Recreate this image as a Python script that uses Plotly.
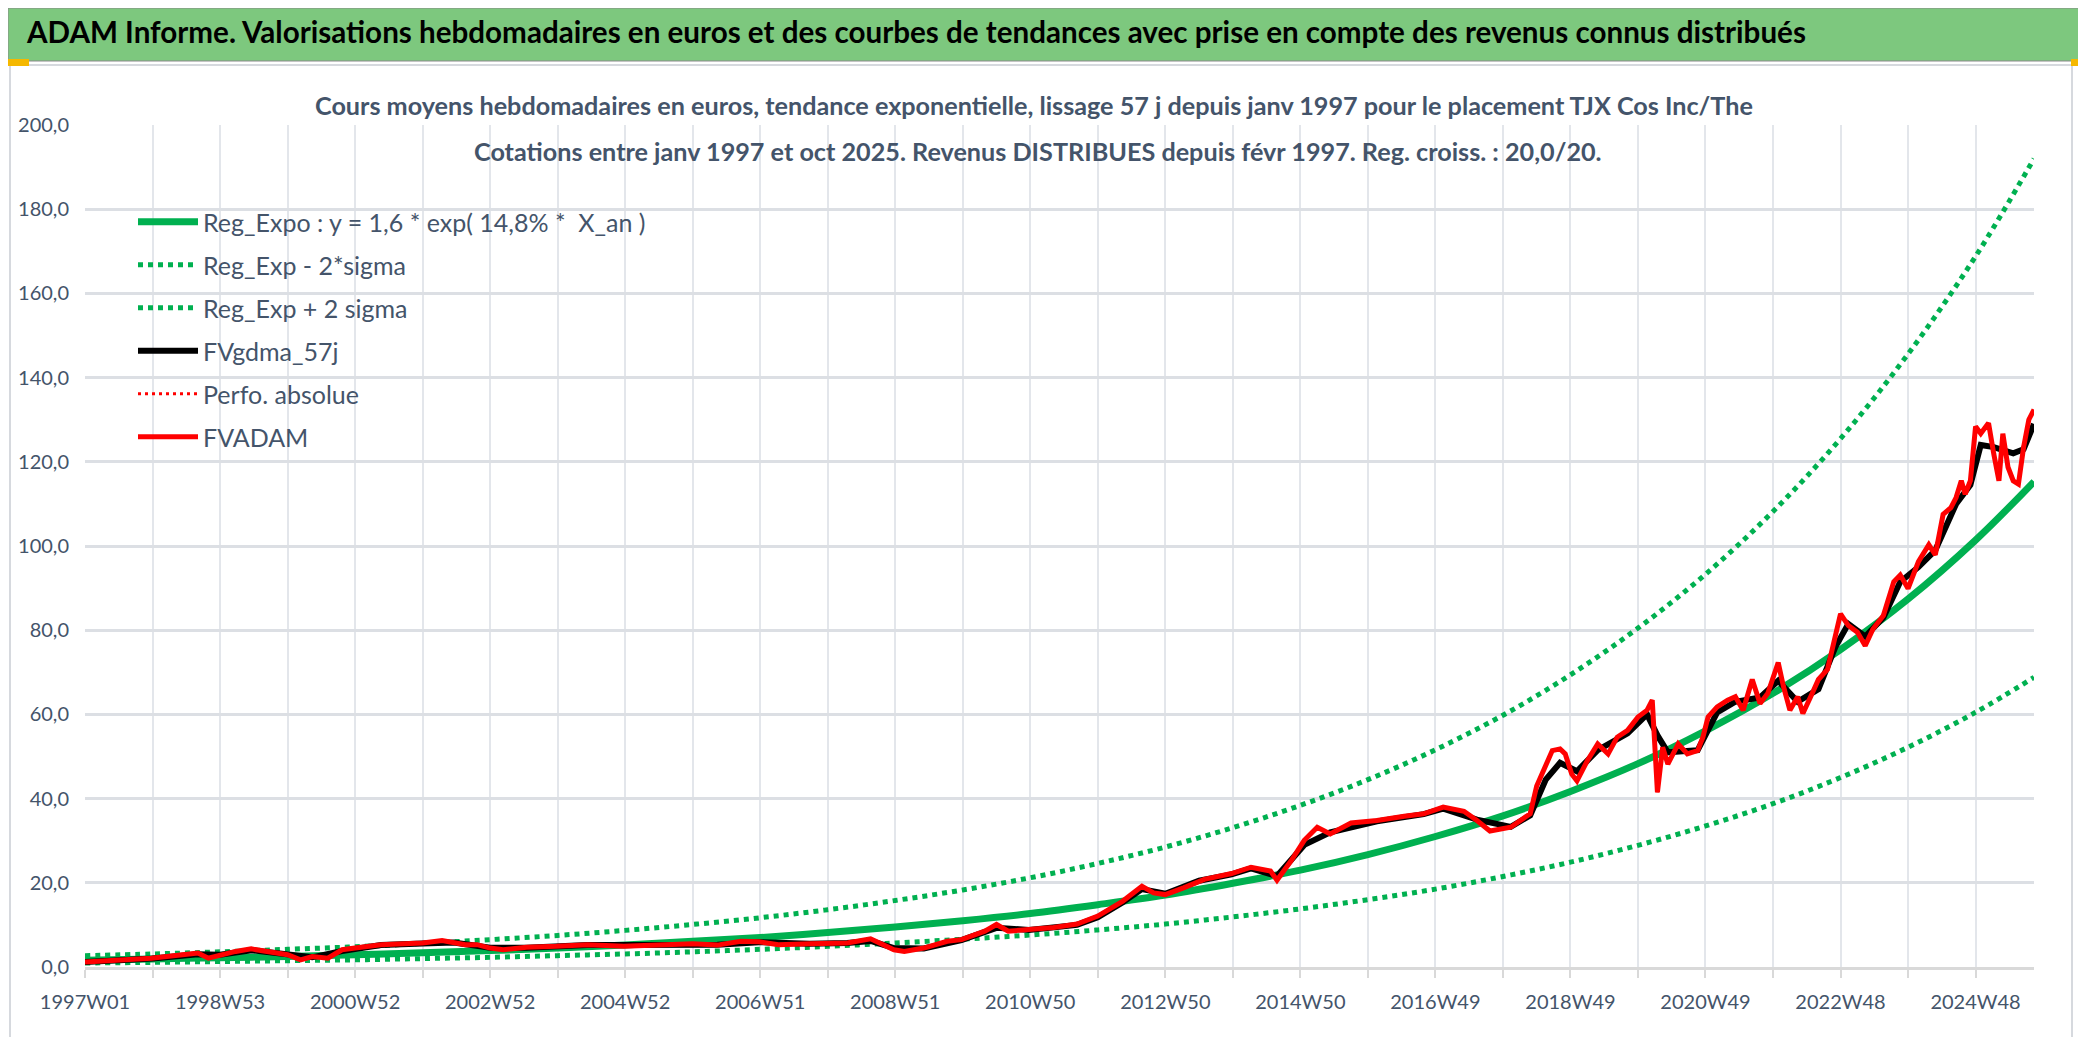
import datetime as dt
import plotly.graph_objects as go

# ---------------- categories : ISO weeks 1997W01 .. 2025W41 ----------------
N_WEEKS = 1502
_monday = dt.date(1996, 12, 30)  # Monday of ISO week 1997W01
weeks = []
for i in range(N_WEEKS):
    yy, ww, _ = (_monday + dt.timedelta(weeks=i)).isocalendar()
    weeks.append(f"{yy}W{ww:02d}")

# ---------------- regression curves (read at yearly gridlines) --------------
band_week = [0, 52, 104, 156, 208, 260, 312, 364, 416, 468,
             520, 572, 624, 676, 728, 780, 832, 884, 936, 988,
             1040, 1092, 1144, 1196, 1248, 1300, 1352, 1404, 1456, 1501]
reg_expo = [1.6, 1.9, 2.2, 2.5, 2.9, 3.4, 3.9, 4.5, 5.2, 6.1,
            7.0, 8.2, 9.5, 11.0, 12.7, 14.8, 17.1, 19.9, 23.0, 26.7,
            31.0, 35.9, 41.7, 48.3, 56.1, 65.0, 75.4, 87.4, 101.4, 115.3]
reg_minus = [0.96, 1.1, 1.3, 1.5, 1.7, 2.0, 2.3, 2.7, 3.1, 3.6,
             4.2, 4.9, 5.7, 6.6, 7.6, 8.8, 10.2, 11.9, 13.8, 16.0,
             18.5, 21.5, 24.9, 28.9, 33.5, 38.8, 45.0, 52.2, 60.5, 68.8]
reg_plus = [2.7, 3.1, 3.6, 4.2, 4.8, 5.6, 6.5, 7.5, 8.7, 10.1,
            11.7, 13.6, 15.8, 18.3, 21.2, 24.6, 28.5, 33.1, 38.4, 44.5,
            51.6, 59.8, 69.4, 80.5, 93.3, 108.2, 125.5, 145.6, 168.8, 192.0]

# ---------------- FVADAM (weeks since 1997W01, values) ----------------------
adam_week = [0, 28, 51, 75, 87, 95, 104, 116, 128, 140,
             156, 166, 175, 187, 198, 208, 228, 246, 260, 275,
             284, 293, 302, 312, 322, 340, 363, 387, 415, 440,
             468, 487, 505, 519, 534, 558, 571, 587, 605, 614,
             623, 631, 646, 664, 675, 693, 702, 711, 727, 746,
             764, 780, 799, 814, 823, 832, 846, 862, 883, 898,
             913, 918, 929, 939, 949, 959, 975, 995, 1016, 1031,
             1046, 1062, 1072, 1082, 1098, 1113, 1118, 1130, 1136, 1140,
             1145, 1149, 1157, 1165, 1173, 1180, 1188, 1196, 1203, 1207,
             1211, 1215, 1219, 1227, 1234, 1242, 1246, 1250, 1257, 1265,
             1271, 1277, 1284, 1290, 1296, 1304, 1308, 1313, 1319, 1323,
             1329, 1335, 1342, 1348, 1352, 1358, 1365, 1371, 1377, 1385,
             1393, 1398, 1404, 1412, 1420, 1425, 1431, 1437, 1441, 1445,
             1448, 1452, 1456, 1460, 1466, 1470, 1474, 1477, 1481, 1485,
             1489, 1493, 1497, 1501]
adam_val = [1.2, 1.7, 2.1, 2.9, 3.3, 2.1, 2.9, 3.7, 4.3, 3.7,
            2.9, 1.7, 2.5, 2.1, 4.1, 4.5, 5.3, 5.5, 5.7, 6.3,
            5.7, 5.3, 5.3, 4.5, 4.1, 4.7, 4.9, 5.3, 4.9, 5.2,
            5.5, 5.2, 6.1, 6.0, 5.3, 5.5, 5.5, 5.7, 6.7, 5.3,
            4.1, 3.7, 4.5, 6.1, 6.5, 8.5, 10.1, 8.5, 8.9, 9.4,
            10.2, 12.1, 15.6, 19.2, 17.6, 17.2, 18.8, 20.8, 22.2, 23.7,
            22.8, 20.6, 25.3, 30.1, 33.2, 31.6, 34.2, 34.8, 35.8, 36.4,
            38.0, 37.0, 34.8, 32.3, 33.2, 36.4, 43.0, 51.4, 51.8, 50.6,
            45.8, 44.2, 49.0, 53.0, 50.6, 54.6, 56.2, 59.4, 61.0, 63.4,
            41.5, 52.2, 48.2, 53.0, 50.6, 51.4, 54.6, 59.4, 61.8, 63.4,
            64.2, 61.0, 68.3, 62.6, 65.0, 72.3, 66.7, 61.0, 64.2, 60.2,
            64.2, 68.3, 70.7, 78.7, 83.9, 81.1, 79.5, 76.3, 80.3, 83.5,
            91.5, 93.1, 89.9, 96.3, 100.3, 97.9, 107.5, 109.1, 111.5, 115.5,
            112.3, 115.5, 128.4, 126.7, 129.2, 121.9, 115.5, 126.7, 118.7, 115.5,
            114.7, 123.5, 130.0, 132.4]

# ---------------- FVgdma_57j (smoothed) -------------------------------------
gdma_week = [0, 52, 87, 104, 128, 156, 175, 198, 228, 260,
             284, 312, 340, 387, 440, 487, 519, 558, 587, 605,
             623, 646, 675, 702, 727, 764, 780, 799, 814, 832,
             858, 883, 898, 918, 939, 959, 995, 1031, 1046, 1072,
             1098, 1113, 1125, 1136, 1149, 1165, 1188, 1203, 1211, 1219,
             1242, 1257, 1271, 1290, 1304, 1319, 1335, 1348, 1358, 1371,
             1385, 1398, 1412, 1425, 1441, 1452, 1460, 1470, 1485, 1493,
             1501]
gdma_val = [1.2, 2.0, 3.0, 2.9, 4.0, 3.0, 2.3, 3.8, 5.2, 5.6,
            5.8, 4.6, 4.6, 5.2, 5.1, 5.3, 5.9, 5.5, 5.7, 6.2,
            4.5, 4.4, 6.4, 9.3, 8.8, 10.0, 11.8, 15.3, 18.5, 17.4,
            20.5, 22.0, 23.4, 21.6, 29.0, 32.0, 34.6, 36.3, 37.6, 35.0,
            33.3, 36.0, 44.5, 48.5, 46.5, 51.5, 55.5, 60.0, 55.0, 51.0,
            51.5, 60.5, 63.0, 64.0, 68.0, 63.0, 66.0, 76.0, 81.5, 78.5,
            83.0, 91.5, 95.0, 99.0, 110.0, 114.5, 124.0, 123.5, 122.0, 123.0,
            129.0]

legend_names = ["Reg_Expo : y = 1,6 * exp( 14,8% *  X_an )", "Reg_Exp - 2*sigma",
                "Reg_Exp + 2 sigma", "FVgdma_57j", "Perfo. absolue", "FVADAM"]
banner_text = ("ADAM Informe. Valorisations hebdomadaires en euros et des courbes de "
               "tendances avec prise en compte des revenus connus distribués")
title_l1 = ("Cours moyens hebdomadaires en euros, tendance exponentielle, lissage 57 j "
            "depuis janv 1997 pour le placement TJX Cos Inc/The")
title_l2 = ("Cotations entre janv 1997 et oct 2025. Revenus DISTRIBUES depuis févr 1997. "
            "Reg. croiss. : 20,0/20.")
y_ticks = [0, 20, 40, 60, 80, 100, 120, 140, 160, 180, 200]

# ---------------- layout geometry (pixels) ----------------------------------
W, H = 2086, 1037
L, R, T, B = 77, 60, 117, 78
PW, PH = W - L - R, H - T - B


def px(x):
    return (x - L) / PW


def py(y):
    return 1 - (y - T) / PH


FONT = "Lato, Roboto, sans-serif"
TXT = "#44546A"
GREEN = "#00B050"
RED = "#FF0000"


def wk(idx):
    return [weeks[i] for i in idx]


fig = go.Figure()
specs = [
    (band_week, reg_expo, dict(color=GREEN, width=7, shape="spline")),
    (band_week, reg_minus, dict(color=GREEN, width=5, dash="5px,5px", shape="spline")),
    (band_week, reg_plus, dict(color=GREEN, width=5, dash="5px,5px", shape="spline")),
    (gdma_week, gdma_val, dict(color="#000000", width=6)),
    (adam_week, adam_val, dict(color=RED, width=3, dash="3px,4px")),
    (adam_week, adam_val, dict(color=RED, width=5)),
]
for n, (xs, ys, ln) in enumerate(specs):
    fig.add_trace(go.Scatter(x=wk(xs), y=ys, name=legend_names[n], mode="lines",
                             line=ln, legendgroup=f"g{n}"))

tickvals = weeks[::52]
ticktext = [w if (k % 2 == 0) else "" for k, w in enumerate(tickvals)]

shapes = [
    dict(type="rect", xref="paper", yref="paper", x0=px(0), x1=px(W), y0=py(0), y1=py(53),
         fillcolor="#7DC87E", line=dict(color="#8A8A8A", width=1), layer="below"),
    dict(type="rect", xref="paper", yref="paper", x0=px(2), x1=px(2064), y0=py(57), y1=py(1030),
         line=dict(color="#D6D9DE", width=2), fillcolor="rgba(0,0,0,0)", layer="below"),
    dict(type="rect", xref="paper", yref="paper", x0=px(310), x1=px(1745), y0=py(80), y1=py(171),
         fillcolor="white", line=dict(width=0), layer="between"),
    dict(type="rect", xref="paper", yref="paper", x0=px(0), x1=px(21), y0=py(51), y1=py(58),
         fillcolor="#F5B800", line=dict(width=0)),
    dict(type="rect", xref="paper", yref="paper", x0=px(2063), x1=px(2083), y0=py(51), y1=py(58),
         fillcolor="#F5B800", line=dict(width=0)),
    dict(type="rect", xref="paper", yref="paper", x0=px(2077), x1=px(2084), y0=py(51), y1=py(77),
         fillcolor="#F5B800", line=dict(width=0)),
    dict(type="rect", xref="paper", yref="paper", x0=px(2074), x1=px(2084), y0=py(993), y1=py(1037),
         fillcolor="#F5B800", line=dict(width=0)),
    dict(type="rect", xref="paper", yref="paper", x0=px(0), x1=px(21), y0=py(1030), y1=py(1037),
         fillcolor="#F5B800", line=dict(width=0)),
    dict(type="rect", xref="paper", yref="paper", x0=px(834), x1=px(968), y0=py(1033), y1=py(1037),
         fillcolor="#FFF176", line=dict(width=0)),
    dict(type="rect", xref="paper", yref="paper", x0=px(1240), x1=px(1387), y0=py(1033), y1=py(1037),
         fillcolor="#FFF176", line=dict(width=0)),
]

annotations = [
    dict(text="<b>" + banner_text + "</b>", xref="paper", yref="paper", x=px(16), y=py(24),
         xanchor="left", yanchor="middle", showarrow=False,
         font=dict(family=FONT, size=29.6, color="#000000")),
    dict(text="<b>" + title_l1 + "</b>", xref="paper", yref="paper", x=px(1026), y=py(97),
         xanchor="center", yanchor="middle", showarrow=False,
         font=dict(family=FONT, size=25.2, color=TXT)),
    dict(text="<b>" + title_l2 + "</b>", xref="paper", yref="paper", x=px(1030), y=py(143),
         xanchor="center", yanchor="middle", showarrow=False,
         font=dict(family=FONT, size=25.2, color=TXT)),
]

fig.update_layout(
    width=W, height=H,
    margin=dict(l=L, r=R, t=T, b=B, autoexpand=False),
    paper_bgcolor="white", plot_bgcolor="white",
    separators=", ",
    showlegend=True,
    legend=dict(x=px(125), y=py(191), xanchor="left", yanchor="top", traceorder="grouped",
                bgcolor="rgba(0,0,0,0)", font=dict(family=FONT, size=25, color=TXT),
                itemwidth=60, tracegroupgap=7.5),
    shapes=shapes,
    annotations=annotations,
    xaxis=dict(type="category", categoryorder="array", categoryarray=weeks,
               range=[0, N_WEEKS - 1], tickmode="array", tickvals=tickvals, ticktext=ticktext,
               showgrid=True, gridcolor="#E3E6EB", gridwidth=1.5,
               showline=True, linecolor="#D9D9D9", linewidth=2.5,
               ticks="outside", ticklen=8, tickcolor="#D9D9D9", tickwidth=1.5,
               tickangle=0, ticklabelstandoff=7,
               tickfont=dict(family=FONT, size=20, color=TXT), zeroline=False),
    yaxis=dict(range=[0, 200], tickmode="array", tickvals=y_ticks, tickformat=".1f",
               showgrid=True, gridcolor="#DCDFE4", gridwidth=2.5, zeroline=False,
               showline=False, ticks="", ticklabelstandoff=15,
               tickfont=dict(family=FONT, size=20, color=TXT)),
)

fig.write_html("out.html")
